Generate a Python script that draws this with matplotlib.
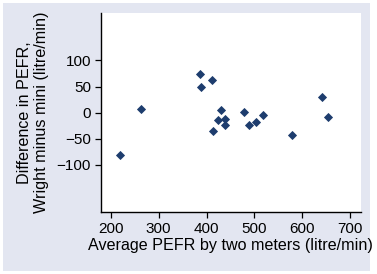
import matplotlib.pyplot as plt
from matplotlib.patches import Rectangle

# Bland-Altman style plot: Wright vs mini peak flow meter
avg_pefr = [503, 412.5, 518, 431, 488, 578.5, 388.5, 411, 654, 439,
            424.5, 641, 263.5, 477.5, 218.5, 386.5, 439]
diff_pefr = [-18, -35, -4, 6, -24, -43, 49, 62, -8, -12,
             -15, 30, 7, 1, -81, 73, -24]

xticks = [200, 300, 400, 500, 600, 700]
yticks = [-100, -50, 0, 50, 100]

plt.rcParams['font.family'] = ['Liberation Sans', 'DejaVu Sans']

W, H = 377, 274
fig = plt.figure(figsize=(W / 100, H / 100), dpi=100, facecolor='white')

# lavender graph region, drawn behind the axes
bg = Rectangle((3 / W, 1 - 271 / H), 367 / W, 268 / H,
               transform=fig.transFigure, facecolor='#e3e6f1',
               edgecolor='none', zorder=-10)
fig.add_artist(bg)

ax = fig.add_axes([100.7 / W, 1 - 212 / H, 260 / W, 198.7 / H])
ax.set_zorder(5)
ax.set_facecolor('white')
ax.plot(avg_pefr, diff_pefr, linestyle='none', marker='D', markersize=3.7,
        color='#1e3d6e', markeredgewidth=0.6)

ax.set_xlim(179, 722)
ax.set_ylim(-190, 190)
ax.set_xticks(xticks)
ax.set_yticks(yticks)

for s in ['top', 'right']:
    ax.spines[s].set_visible(False)
for s in ['left', 'bottom']:
    ax.spines[s].set_linewidth(1.0)
    ax.spines[s].set_color('black')

ax.tick_params(direction='out', length=4, width=0.9, pad=3,
               labelsize=11, colors='black')

ax.set_xlabel('Average PEFR by two meters (litre/min)', fontsize=11.6)
ax.xaxis.set_label_coords(0.5, -0.13)
ax.set_ylabel('Difference in PEFR,\nWright minus mini (litre/min)',
              fontsize=11.6, linespacing=1.1)
ax.yaxis.set_label_coords(-0.2, 0.5)

fig.savefig('out.png', dpi=100, facecolor='white')
